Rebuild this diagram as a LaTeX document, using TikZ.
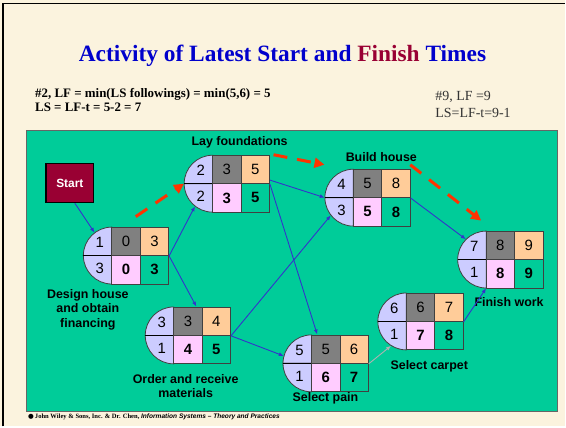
\documentclass[tikz,border=0pt]{standalone}
\usepackage{fontspec}
\setmainfont{Liberation Serif}
\setsansfont{Liberation Sans}
\newfontfamily\dejavu{DejaVu Sans}
\usepackage{tikz}
\usetikzlibrary{arrows.meta}

\definecolor{paper}{RGB}{251,243,222}
\definecolor{panelgreen}{RGB}{0,204,153}
\definecolor{lav}{RGB}{204,204,255}
\definecolor{midgray}{RGB}{128,128,128}
\definecolor{peach}{RGB}{255,204,153}
\definecolor{pinkish}{RGB}{255,204,255}
\definecolor{startred}{RGB}{153,0,51}
\definecolor{arrowblue}{RGB}{51,51,204}
\definecolor{critred}{RGB}{255,51,0}
\definecolor{titleblue}{RGB}{0,0,204}
\definecolor{titlered}{RGB}{153,0,51}

\begin{document}
\begin{tikzpicture}[x=1bp,y=-1bp,
    cell/.style={draw=black!75, line width=0.8bp, minimum size=28.5bp, inner sep=0pt,
      font=\sffamily\fontsize{15}{15}\selectfont},
    digit/.style={inner sep=0pt, font=\sffamily\fontsize{15}{15}\selectfont},
    lbl/.style={align=center, inner sep=0pt, font=\sffamily\bfseries\fontsize{12.5}{14.5}\selectfont},
    flow/.style={draw=arrowblue, line width=0.9bp, -{Latex[length=5bp,width=4bp]}},
    crit/.style={draw=critred, line width=3bp, dash pattern=on 14bp off 10bp,
      -{Triangle[length=10bp,width=10bp]}}]

    \fill[paper] (0,0) rectangle (566,427);
    \draw[line width=2bp] (3.5,427) -- (3.5,3.5) -- (566,3.5);

    \node[font=\bfseries\fontsize{23.5}{28}\selectfont, text=titleblue] (title) at (283,56)
        {Activity of Latest Start and \textcolor{titlered}{Finish} Times};
    \node[anchor=north west, align=left, inner sep=0pt, font=\bfseries\fontsize{13}{14}\selectfont] (lfnote) at (35,88)
        {\#2, LF = min(LS followings) = min(5,6) = 5\\LS = LF-t = 5-2 = 7};
    \node[anchor=north west, align=left, inner sep=0pt, text=black!80, font=\fontsize{14}{17.5}\selectfont] (lsnote) at (436,91)
        {\#9, LF =9\\LS=LF-t=9-1};

    \draw[draw=black!60, line width=1bp, fill=panelgreen] (27,131) rectangle (558,412);

    \node[draw=black, line width=1.2bp, fill=startred, minimum width=48bp, minimum height=39bp,
        text=white, font=\sffamily\bfseries\fontsize{12}{12}\selectfont] (start) at (70,183.5) {Start};

    % name / x / y / two circle values / four cell values
    \foreach \n/\x/\y/\ca/\cb/\g/\o/\p/\e in {
        n1/112/256/1/3/0/3/0/3,
        n2/213/184/2/2/3/5/3/5,
        n3/354/198/4/3/5/8/5/8,
        n4/174/336/3/1/3/4/4/5,
        n5/312/364/5/1/5/6/6/7,
        n6/407/322/6/1/6/7/7/8,
        n7/487/260/7/1/8/9/8/9}
    {
        \draw[draw=black!75, line width=0.8bp, fill=lav] (\x,\y) -- ++(0,-28.5) arc (90:180:28.5bp) -- cycle;
        \draw[draw=black!75, line width=0.8bp, fill=lav] (\x,\y) -- ++(-28.5,0) arc (180:270:28.5bp) -- cycle;
        \draw[line width=1bp] (\x-28.5,\y) -- (\x,\y);
        \node[circle, minimum size=57bp, inner sep=0pt] (\n-c) at (\x,\y) {};
        \node[digit] (\n-t) at (\x-12,\y-13) {\ca};
        \node[digit] (\n-b) at (\x-12,\y+13) {\cb};
        \node[cell, fill=midgray] (\n-g) at (\x+14.25,\y-14.25) {\g};
        \node[cell, fill=peach] (\n-o) at (\x+42.75,\y-14.25) {\o};
        \node[cell, fill=pinkish, font=\sffamily\bfseries\fontsize{15}{15}\selectfont] (\n-p) at (\x+14.25,\y+14.25) {\p};
        \node[cell, fill=panelgreen, font=\sffamily\bfseries\fontsize{15}{15}\selectfont] (\n-e) at (\x+42.75,\y+14.25) {\e};
    }

    \node[lbl] (lab1) at (88,310) {Design house\\and obtain\\financing};
    \node[lbl] (lab2) at (240,143) {Lay foundations};
    \node[lbl] (lab3) at (382,157) {Build house};
    \node[lbl] (lab4) at (186,387) {Order and receive\\materials};
    \node[lbl] (lab5) at (326,399) {Select pain};
    \node[lbl] (lab6) at (430,367) {Select carpet};
    \node[lbl] (lab7) at (510,303) {Finish work};

    \draw[flow] ([xshift=5bp]start.south) -- (n1-c.127);
    \draw[flow] (n1-o.south east) -- (n2-c.-128);
    \draw[flow] (n1-o.south east) -- (n4-g.60);
    \draw[flow] ([yshift=4bp]n2-o.south east) -- (n3-c.west);
    \draw[flow] (n2-o.south east) -- (n5-g.120);
    \draw[flow] (n4-o.south east) -- (n3-c.-142);
    \draw[flow] (n4-o.south east) -- (n5-c.165);
    \draw[flow] (n3-o.south east) -- (n7-c.135);
    \draw[flow, draw=black!30] (n5-o.south east) -- (n6-c.-122);
    \draw[flow] (n6-o.south east) -- (n7-c.south);

    \coordinate (cp1) at (136,217);
    \coordinate (cp2) at (274,155);
    \coordinate (cp3) at (325,165);
    \coordinate (cp4) at (411,165);
    \coordinate (cp5) at (482,221);
    \draw[crit] (cp1) -- (n2-c.west);
    \draw[crit] (cp2) -- (cp3);
    \draw[crit] (cp4) -- (cp5);

    \node[anchor=west, inner sep=0pt, font=\fontsize{6.6}{6.6}\selectfont] (credit) at (28,418)
        {{\dejavu ●}\,\textbf{John Wiley \& Sons, Inc. \& Dr. Chen,} {\sffamily\bfseries\itshape Information Systems -- Theory and Practices}};
\end{tikzpicture}
\end{document}
